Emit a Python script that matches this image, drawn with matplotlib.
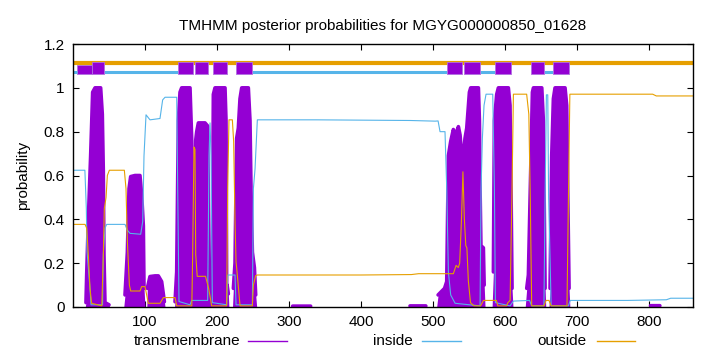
import numpy as np
import matplotlib
matplotlib.use("Agg")
import matplotlib.pyplot as plt
from matplotlib.lines import Line2D

plt.rcParams['font.family'] = ['Liberation Sans', 'DejaVu Sans']

seq_len = 861

# transmembrane posterior (position, probability)
tm_pos = [1, 17, 18, 19, 21.3, 24.5, 27.3, 30.6, 38.4, 40.7, 42.1, 43, 44.4, 50, 51,
          70.5, 72.2, 75.5, 77.8, 80.1, 86.1, 93, 95.4, 97.7, 98.6, 100,
          102.5, 103.2, 106.9, 113.9, 118.5, 123.1, 126.9, 127.8,
          141, 141.7, 144, 146.3, 148.6, 150.9, 162.5, 164.8, 165.7, 166.5, 168.5, 169.4,
          170.4, 171.8, 174.1, 183.3, 187, 187.9, 188.9, 192.6, 193.5, 194.9, 197.2, 211.1,
          212.5, 213.4, 214, 215.7, 216.5,
          221.5, 222.7, 225, 227.3, 229.6, 231.9, 234.3, 243.5, 245.8, 247.2, 249.1, 251.9,
          253.7, 255.1,
          300, 305, 330, 335, 465, 468, 490, 493,
          505, 507, 516, 519, 521.3, 524.5, 528.2, 530.6, 532.9, 535.2, 537.5, 539.8, 541.2,
          542.1, 544.4, 546.8, 550.5, 552.3, 563, 564.4, 565.3, 566.5, 569.9, 571, 572.2,
          582, 583.8, 585.2, 588.4, 590.7, 604.6, 606.9, 608.3, 609.7, 611,
          628, 630.1, 632.4, 636.1, 638, 639.4, 651, 653.2, 654.6, 655.6, 656.5,
          661, 662.5, 664.8, 667.1, 669.4, 683.3, 685.6, 687, 688.9, 690,
          800, 802, 815, 817, 861]
tm_val = [0, 0, 0.02, 0.146, 0.4, 0.69, 0.98, 1.0, 1.0, 0.88, 0.62, 0.24, 0.02, 0.01, 0,
          0, 0.055, 0.25, 0.54, 0.595, 0.6, 0.6, 0.51, 0.37, 0.085, 0,
          0, 0.085, 0.139, 0.142, 0.142, 0.116, 0.024, 0,
          0, 0.024, 0.16, 0.85, 0.98, 1.0, 1.0, 0.77, 0.39, 0.3, 0.25, 0.5,
          0.76, 0.8, 0.84, 0.84, 0.826, 0.54, 0.055, 0.024, 0.16, 0.97, 1.0, 1.0,
          0.85, 0.085, 0.1, 0.06, 0,
          0, 0.085, 0.2, 0.77, 0.816, 0.95, 1.0, 1.0, 0.85, 0.54, 0.25, 0.18,
          0.055, 0,
          0, 0.004, 0.004, 0, 0, 0.005, 0.005, 0,
          0, 0.055, 0.085, 0.116, 0.69, 0.755, 0.81, 0.785, 0.80, 0.823, 0.785, 0.69, 0.65,
          0.69, 0.77, 0.816, 0.98, 1.0, 1.0, 0.85, 0.54, 0.28, 0.27, 0.1, 0,
          0, 0.16, 0.85, 0.97, 1.0, 1.0, 0.92, 0.54, 0.085, 0,
          0, 0.085, 0.146, 0.69, 0.98, 1.0, 1.0, 0.85, 0.39, 0.085, 0,
          0, 0.085, 0.69, 0.95, 1.0, 1.0, 0.92, 0.54, 0.085, 0,
          0, 0.006, 0.006, 0, 0]

# inside posterior
in_pos = [1, 16.5, 18.5, 19.5, 23.6, 25, 41, 42.1, 44.4, 46.8, 72.2, 75.5, 79.2, 94, 96.8,
          98.6, 101.4, 106.9, 120.8, 124.5, 127.8, 144, 145.4, 147.2, 162.5, 164.8, 187,
          188.9, 190.3, 191.7, 193.5, 213.4, 214.8, 225, 226.4, 249.1, 250.5, 252.8, 256,
          338, 468, 503, 507, 509.7, 516.6, 519, 521.3, 524.5, 530.6, 565.3, 566.7, 568.5,
          570.8, 573.6, 582.9, 585.2, 586.6, 606.9, 611.6, 634, 637, 654, 655.6, 657.4,
          659.3, 660.5, 664, 688, 690.5, 770, 824, 830, 861]
in_val = [0.624, 0.624, 0.45, 0.253, 0.085, 0.01, 0.01, 0.24, 0.36, 0.377, 0.377, 0.35, 0.336,
          0.332, 0.39, 0.69, 0.877, 0.854, 0.86, 0.945, 0.957, 0.957, 0.54, 0.025, 0.01, 0.03,
          0.03, 0.69, 0.84, 0.69, 0.02, 0.01, 0.146, 0.146, 0.01, 0.01, 0.54, 0.63, 0.854,
          0.854, 0.851, 0.848, 0.849, 0.80, 0.80, 0.54, 0.16, 0.055, 0.017, 0.005, 0.54, 0.77,
          0.92, 0.971, 0.971, 0.54, 0.02, 0.005, 0.027, 0.03, 0.005, 0.005, 0.5, 0.968,
          0.968, 0.5, 0.005, 0.005, 0.03, 0.03, 0.033, 0.04, 0.04]

# outside posterior
out_pos = [1, 16.7, 19, 21.3, 23.6, 25.9, 40, 42.1, 43.5, 45.9, 47.7, 50.5, 71.3, 73.6, 75.5,
           78.3, 80.1, 93, 95.4, 100, 102.3, 104.6, 120.8, 125.5, 141.7, 144, 165, 166.2, 168,
           169.4, 170.4, 172.5, 184, 188.4, 192.6, 213.4, 214.8, 216.6, 221.3, 223.1, 225,
           226.4, 227.8, 232, 249.1, 250.5, 253.7, 256, 400, 470, 480, 528.2, 532, 535, 537,
           539.5, 541.5, 543.5, 545.5, 547, 549, 552, 557, 566, 570, 588, 590, 602, 604, 607,
           609.5, 611.6, 630, 633, 635, 637, 654, 657, 661, 664, 686, 688, 690, 805, 810, 861]
out_val = [0.377, 0.377, 0.36, 0.237, 0.085, 0.017, 0.005, 0.24, 0.45, 0.5, 0.6, 0.624, 0.624,
           0.54, 0.3, 0.1, 0.073, 0.073, 0.093, 0.093, 0.055, 0.017, 0.017, 0.043, 0.043,
           0.005, 0.005, 0.24, 0.73, 0.72, 0.24, 0.14, 0.14, 0.085, 0.005, 0.005, 0.54, 0.854,
           0.854, 0.755, 0.39, 0.207, 0.16, 0.005, 0.005, 0.1, 0.143, 0.146, 0.146, 0.148,
           0.152, 0.152, 0.19, 0.18, 0.2, 0.4, 0.617, 0.4, 0.28, 0.27, 0.12, 0.02, 0.005,
           0.005, 0.03, 0.03, 0.005, 0.005, 0.02, 0.03, 0.5, 0.971, 0.971, 0.88, 0.5, 0.005,
           0.005, 0.03, 0.03, 0.005, 0.005, 0.5, 0.971, 0.971, 0.963, 0.963]

# predicted topology shown above the curves
tm_start = [26, 146, 170, 194, 227, 520, 543, 586, 636, 666]
tm_end = [43, 166, 188, 214, 249, 540, 565, 608, 654, 689]
tm_low_start = [6]
tm_low_end = [26]
in_start = [0, 43, 249, 565, 654]
in_end = [6, 146, 520, 586, 667]

purple = '#9400d3'
blue = '#56b4e9'
orange = '#e69f00'

fig = plt.figure(figsize=(7.2, 3.52), dpi=100)
ax = fig.add_axes([73 / 720, 1 - 307 / 352, 620 / 720, 263 / 352])

# thick impulses in gnuplot look like rounded blobs; skip the outline on the baseline
tm_arr = np.array(tm_val, dtype=float)
tm_edge = np.where(tm_arr > 0, tm_arr, np.nan)
ax.fill_between(tm_pos, 0, tm_val, color=purple, lw=0, zorder=2)
ax.plot(tm_pos, tm_edge, color=purple, lw=2.6, solid_joinstyle='round',
        solid_capstyle='round', zorder=2)
ax.plot(in_pos, in_val, color=blue, lw=0.8, zorder=3)
ax.plot(out_pos, out_val, color=orange, lw=0.8, zorder=3)

ax.plot([0, seq_len], [1.113, 1.113], color=orange, lw=3, zorder=4, solid_capstyle='butt')
for s, e in zip(in_start, in_end):
    ax.plot([s, e], [1.072, 1.072], color=blue, lw=2.2, zorder=4, solid_capstyle='butt')
ax.broken_barh([(s, e - s) for s, e in zip(tm_low_start, tm_low_end)], (1.065, 0.04),
               facecolor=purple, edgecolor='#b070e0', lw=0.6, zorder=3.5)
ax.broken_barh([(s, e - s) for s, e in zip(tm_start, tm_end)], (1.065, 0.052),
               facecolor=purple, edgecolor='#b070e0', lw=0.6, zorder=5)

ax.set_xlim(0, seq_len)
ax.set_ylim(0, 1.2)
ax.set_xticks([100, 200, 300, 400, 500, 600, 700, 800])
ax.set_yticks([0, 0.2, 0.4, 0.6, 0.8, 1.0, 1.2])
ax.set_yticklabels(['0', '0.2', '0.4', '0.6', '0.8', '1', '1.2'])
ax.tick_params(direction='in', top=True, right=True, length=4, width=0.8,
               labelsize=11, pad=6)
for sp in ax.spines.values():
    sp.set_linewidth(1.0)
    sp.set_zorder(6)

ax.set_ylabel('probability', fontsize=11, labelpad=10)
ax.set_title('TMHMM posterior probabilities for MGYG000000850_01628', fontsize=11, pad=10)

# legend row under the axis, gnuplot style
legend_items = [('transmembrane', purple, 240, 248, 287),
                ('inside', blue, 413, 422, 461),
                ('outside', orange, 587, 597, 635)]
ly = 1 - 341 / 352
for label, col, tx, x0, x1 in legend_items:
    fig.text(tx / 720, ly, label, ha='right', va='center', fontsize=11)
    fig.add_artist(Line2D([x0 / 720, x1 / 720], [ly, ly], color=col, lw=1.0))

fig.savefig('out.png', dpi=100)
